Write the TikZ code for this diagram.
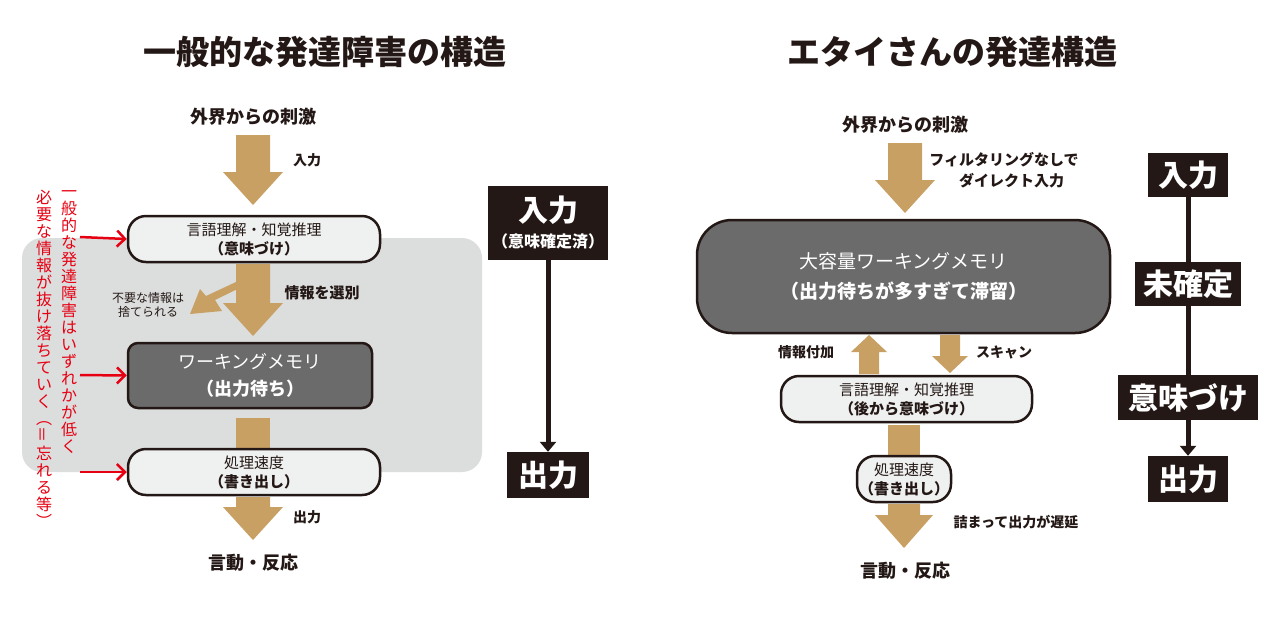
\documentclass[tikz,border=0pt]{standalone}
\usepackage{fontspec}
\setmainfont{Noto Sans CJK JP}
\usepackage{graphicx}
\usetikzlibrary{arrows.meta}
\definecolor{tan}{HTML}{C8A064}
\definecolor{bggray}{HTML}{DCDDDD}
\definecolor{boxlt}{HTML}{EFF0F0}
\definecolor{boxdk}{HTML}{6B6B6B}
\definecolor{ink}{HTML}{231815}
\definecolor{redc}{HTML}{E60012}
\begin{document}
\begin{tikzpicture}[x=1pt,y=-1pt,
  lbl/.style={font=\bfseries\fontsize{#1}{#1}\selectfont,text=ink,inner sep=0pt},
  pill/.style={draw=ink,line width=2.5pt,fill=boxlt,rounded corners=18pt,inner sep=0pt,align=center,text=ink,font=\fontsize{15}{19}\selectfont},
  dk/.style={draw=ink,line width=2.5pt,fill=boxdk,inner sep=0pt,align=center,text=white,font=\fontsize{18}{27}\selectfont},
  blk/.style={fill=ink,text=white,inner sep=0pt,align=center,font=\bfseries\fontsize{30}{32}\selectfont},
  bigarrow/.style={fill=tan},
  redarrow/.style={draw=redc,line width=2.5pt,-{Straight Barb[length=8pt,width=16pt]}},
  blkline/.style={draw=ink,line width=5pt,-{Triangle[length=10pt,width=16pt]}}]
\useasboundingbox (0,0) rectangle (1281,625);
\fill[white] (0,0) rectangle (1281,625);
% ---------- LEFT ----------
\node[lbl=33] (t1) at (325,52) {一般的な発達障害の構造};
\node[lbl=18] (in1) at (253,117) {外界からの刺激};
\fill[bigarrow] (236,135) -- (270,135) -- (270,172) -- (283,172) -- (253,205) -- (223,172) -- (236,172) -- cycle;
\node[lbl=14] (l1) at (307,160) {入力};
\fill[bggray,rounded corners=20pt] (22,238) rectangle (482,472);
\node[pill,minimum width=252pt,minimum height=46pt] (b1) at (254,239) {言語理解・知覚推理\\\textbf{（意味づけ）}};
% branch arrow
\fill[bigarrow] (236,264) -- (270,264) -- (270,303) -- (283,303) -- (253,336) -- (223,303) -- (236,303) -- cycle;
\fill[bigarrow] (236,266) -- (256,280) -- (215,300) -- (222,311) -- (190,314) -- (200,289) -- (206,296) -- (236,282) -- cycle;
\node[lbl=15] (sel) at (322,293) {情報を選別};
\node[text=ink,align=center,inner sep=0pt,font=\fontsize{12}{14}\selectfont] (drop) at (148,305) {不要な情報は\\捨てられる};
\node[dk,minimum width=244pt,minimum height=65pt,rounded corners=10pt] (b2) at (250,375.5) {ワーキングメモリ\\\textbf{（出力待ち）}};
\fill[bigarrow] (236,418) rectangle (270,449);
\node[pill,minimum width=252pt,minimum height=46pt] (b3) at (254,472) {処理速度\\\textbf{（書き出し）}};
\fill[bigarrow] (236,497) -- (270,497) -- (270,507) -- (283,507) -- (253,540) -- (223,507) -- (236,507) -- cycle;
\node[lbl=14] (l2) at (307,517) {出力};
\node[lbl=18] (out1) at (253,563) {言動・反応};
% red notes
\coordinate (r1) at (80,237); \coordinate (r2) at (80,375); \coordinate (r3) at (80,472);
\draw[redarrow] (r1) -- (b1.west);
\draw[redarrow] (r2) -- (b2.west);
\draw[redarrow] (r3) -- (b3.west);
\node[text=redc,align=center,inner sep=0pt,anchor=north,font=\fontsize{16}{17}\selectfont] (v1) at (69,190)
 {一\\般\\的\\な\\発\\達\\障\\害\\は\\い\\ず\\れ\\か\\が\\低\\く};
\node[text=redc,align=center,inner sep=0pt,anchor=north,font=\fontsize{16}{17}\selectfont] (v2) at (44,190)
 {必\\要\\な\\情\\報\\が\\抜\\け\\落\\ち\\て\\い\\く\\︵\\\rotatebox{90}{＝}\\忘\\れ\\る\\等\\︶};
% left column black
\node[blk,minimum width=120pt,minimum height=74pt] (k1) at (548,223) {入力\\[-6pt]{\fontsize{16}{18}\selectfont （意味確定済）}};
\node[blk,minimum width=82pt,minimum height=46pt] (k2) at (548,475) {出力};
\draw[blkline] (k1.south) -- (k2.north);
% ---------- RIGHT ----------
\node[lbl=33] (t2) at (952,52) {エタイさんの発達構造};
\node[lbl=18] (in2) at (905,125) {外界からの刺激};
\fill[bigarrow] (888,143) -- (922,143) -- (922,180) -- (935,180) -- (905,213) -- (875,180) -- (888,180) -- cycle;
\node[text=ink,inner sep=0pt,align=center,font=\bfseries\fontsize{15}{21}\selectfont] (fl) at (1004,170) {フィルタリングなしで\\　ダイレクト入力};
\node[dk,minimum width=413pt,minimum height=113pt,rounded corners=35pt,font=\fontsize{19}{30}\selectfont] (wm) at (903.5,276.5) {大容量ワーキングメモリ\\\textbf{（出力待ちが多すぎて滞留）}};
\fill[bigarrow] (859,374) -- (879,374) -- (879,352) -- (887,352) -- (869,335) -- (851,352) -- (859,352) -- cycle;
\fill[bigarrow] (940,335) -- (960,335) -- (960,356) -- (968,356) -- (950,373) -- (932,356) -- (940,356) -- cycle;
\node[lbl=14] (add) at (806,352) {情報付加};
\node[lbl=14] (scan) at (1004,352) {スキャン};
\node[pill,minimum width=251pt,minimum height=46pt] (c1) at (906.5,399) {言語理解・知覚推理\\\textbf{（後から意味づけ）}};
\fill[bigarrow] (888,425) rectangle (920,457);
\node[pill,minimum width=94pt,minimum height=46pt] (c2) at (904,479) {処理速度\\\textbf{（書き出し）}};
\fill[bigarrow] (888,504) -- (920,504) -- (920,515) -- (933,515) -- (904,548) -- (875,515) -- (888,515) -- cycle;
\node[lbl=14] (dl) at (1016,522) {詰まって出力が遅延};
\node[lbl=18] (out2) at (905,571) {言動・反応};
% right column
\node[blk,minimum width=80pt,minimum height=44pt] (m1) at (1188,175) {入力};
\node[blk,minimum width=106pt,minimum height=44pt] (m2) at (1188,284) {未確定};
\node[blk,minimum width=140pt,minimum height=45pt] (m3) at (1188,397.5) {意味づけ};
\node[blk,minimum width=80pt,minimum height=46pt] (m4) at (1188,479) {出力};
\draw[draw=ink,line width=5pt] (m1.south) -- (m2.north);
\draw[draw=ink,line width=5pt] (m2.south) -- (m3.north);
\draw[blkline] (m3.south) -- (m4.north);
\end{tikzpicture}
\end{document}
